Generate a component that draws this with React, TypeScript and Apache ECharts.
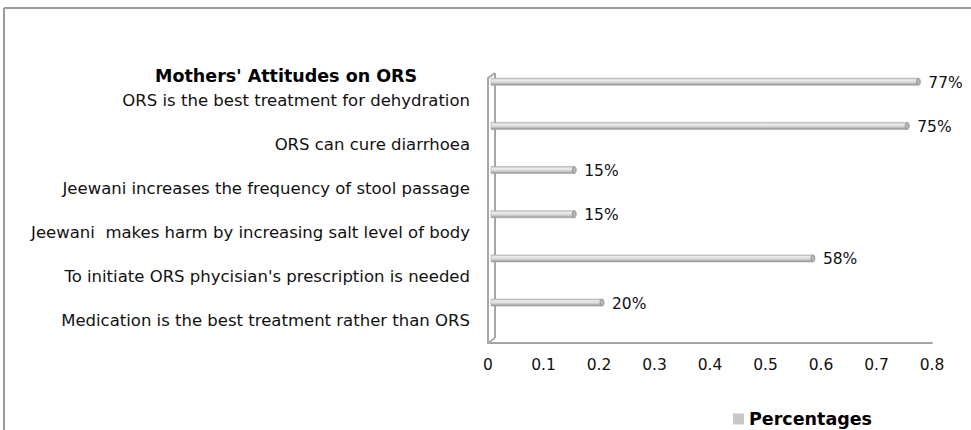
import React, { useEffect, useRef } from "react";
import * as echarts from "echarts";

const categories = [
  "ORS is the best treatment for dehydration",
  "ORS can cure diarrhoea",
  "Jeewani increases the frequency of stool passage",
  "Jeewani  makes harm by increasing salt level of body",
  "To initiate ORS phycisian's prescription is needed",
  "Medication is the best treatment rather than ORS",
];
const percentages = [0.77, 0.75, 0.15, 0.15, 0.58, 0.2];
const xTicks = { min: 0, max: 0.8, interval: 0.1 };
const seriesName = "Percentages";
const titleText = "Mothers' Attitudes on ORS";

const FONT = "'DejaVu Sans', sans-serif";

export default function App() {
  const ref = useRef<HTMLDivElement>(null);
  useEffect(() => {
    if (!ref.current) return;
    const chart = echarts.init(ref.current, null, { renderer: "svg" });
    const barFill = new echarts.graphic.LinearGradient(0, 0, 0, 1, [
      { offset: 0, color: "#bdbdbd" },
      { offset: 0.25, color: "#ededed" },
      { offset: 0.6, color: "#d6d6d6" },
      { offset: 1, color: "#8e8e8e" },
    ]);
    const frameColor = "#a6a6a6";
    chart.setOption({
      animation: false,
      backgroundColor: "#ffffff",
      title: {
        text: titleText,
        left: 150,
        top: 62,
        textStyle: { fontFamily: FONT, fontSize: 17.5, fontWeight: "bold", color: "#000" },
      },
      legend: {
        data: [seriesName],
        left: 728,
        top: 405,
        icon: "rect",
        itemWidth: 11,
        itemHeight: 11,
        itemGap: 6,
        textStyle: { fontFamily: FONT, fontSize: 17.5, fontWeight: "bold", color: "#000" },
      },
      grid: { left: 488, top: 78, width: 444, height: 265, containLabel: false },
      xAxis: {
        type: "value",
        min: xTicks.min,
        max: xTicks.max,
        interval: xTicks.interval,
        splitLine: { show: false },
        axisTick: { show: false },
        axisLine: { show: true, lineStyle: { color: frameColor, width: 2 } },
        axisLabel: {
          fontFamily: FONT,
          fontSize: 15.5,
          color: "#111",
          margin: 14,
          formatter: (v: number) => (Math.round(v * 10) / 10).toString(),
        },
      },
      yAxis: {
        type: "category",
        data: categories,
        inverse: true,
        axisTick: { show: false },
        axisLine: { show: true, lineStyle: { color: frameColor, width: 2 } },
        splitLine: { show: false },
        axisLabel: { fontFamily: FONT, fontSize: 16.5, color: "#111", margin: 18 },
      },
      graphic: [
        { type: "line", shape: { x1: 4, y1: 8, x2: 4, y2: 430 }, style: { stroke: "#9a9a9a", lineWidth: 2 } },
        { type: "line", shape: { x1: 4, y1: 8, x2: 971, y2: 8 }, style: { stroke: "#9a9a9a", lineWidth: 2 } },
        { type: "line", shape: { x1: 495, y1: 73, x2: 495, y2: 338 }, style: { stroke: frameColor, lineWidth: 2 } },
        { type: "line", shape: { x1: 488, y1: 78, x2: 495, y2: 73 }, style: { stroke: frameColor, lineWidth: 2 } },
        { type: "line", shape: { x1: 488, y1: 343, x2: 495, y2: 338 }, style: { stroke: frameColor, lineWidth: 2 } },
      ],
      series: [
        {
          name: seriesName,
          type: "custom",
          itemStyle: { color: "#c8c8c8" },
          encode: { x: 0, y: 1 },
          data: percentages.map((v, i) => [v, i]),
          renderItem: (params: any, api: any) => {
            const v = api.value(0);
            const idx = api.value(1);
            const start = api.coord([0, idx]);
            const end = api.coord([v, idx]);
            const band = api.size([0, 1])[1];
            const cy = start[1] - band * 0.415;
            const h = 7;
            const dx = 3;
            const x0 = start[0] + dx;
            const x1 = end[0] + dx;
            return {
              type: "group",
              children: [
                {
                  type: "rect",
                  shape: { x: x0, y: cy - h / 2, width: x1 - x0, height: h },
                  style: { fill: barFill, stroke: "#a8a8a8", lineWidth: 0.6 },
                },
                {
                  type: "ellipse",
                  shape: { cx: x1, cy: cy, rx: 2, ry: h / 2 },
                  style: { fill: "#b5b5b5", stroke: "#8a8a8a", lineWidth: 0.8 },
                },
                {
                  type: "text",
                  style: {
                    text: Math.round(v * 100) + "%",
                    x: x1 + 10,
                    y: cy + 1,
                    verticalAlign: "middle",
                    align: "left",
                    fontFamily: FONT,
                    fontSize: 15.5,
                    fill: "#111",
                  },
                },
              ],
            };
          },
        },
      ],
    });
    return () => chart.dispose();
  }, []);
  return (
    <div
      ref={ref}
      style={{ position: "fixed", left: 0, top: 0, width: 971, height: 430 }}
    />
  );
}
